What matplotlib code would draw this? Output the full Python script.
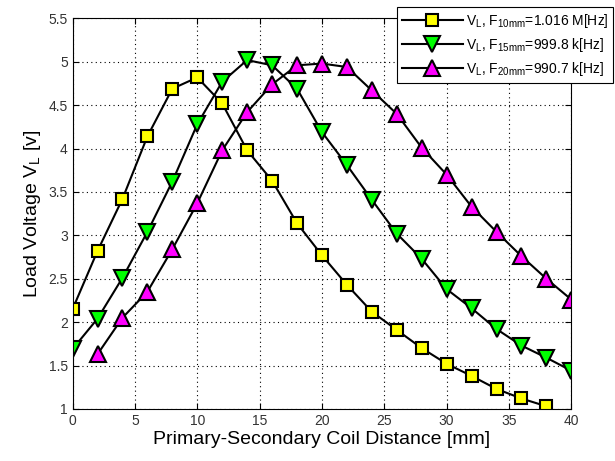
import numpy as np
import matplotlib
matplotlib.use("Agg")
import matplotlib.pyplot as plt

plt.rcParams['font.family'] = ['Liberation Sans', 'DejaVu Sans']
plt.rcParams['mathtext.fontset'] = 'custom'
plt.rcParams['mathtext.rm'] = 'Liberation Sans'
plt.rcParams['mathtext.it'] = 'Liberation Sans'

# distances [mm]
dist_10 = list(range(0, 40, 2))
dist_15 = list(range(0, 42, 2))
dist_20 = list(range(2, 42, 2))

# load voltage [V]
v_10mm = [2.15, 2.82, 3.42, 4.14, 4.69, 4.82, 4.52, 3.98, 3.63, 3.14,
          2.77, 2.43, 2.12, 1.91, 1.70, 1.52, 1.38, 1.23, 1.12, 1.03]
v_15mm = [1.69, 2.04, 2.51, 3.04, 3.62, 4.28, 4.77, 5.02, 4.96, 4.69,
          4.19, 3.81, 3.41, 3.02, 2.73, 2.38, 2.16, 1.92, 1.73, 1.59, 1.44]
v_20mm = [1.63, 2.05, 2.35, 2.84, 3.37, 3.98, 4.42, 4.74, 4.96, 4.98,
          4.94, 4.67, 4.40, 4.01, 3.70, 3.33, 3.04, 2.76, 2.50, 2.26]

labels = [r'V$_\mathrm{L}$, F$_\mathrm{10mm}$=1.016 M[Hz]',
          r'V$_\mathrm{L}$, F$_\mathrm{15mm}$=999.8 k[Hz]',
          r'V$_\mathrm{L}$, F$_\mathrm{20mm}$=990.7 k[Hz]']

fig = plt.figure(figsize=(6.15, 4.61), dpi=100)
ax = fig.add_axes([0.118, 0.113, 0.811, 0.847])

ax.plot(dist_10, v_10mm, '-s', color='k', lw=1.5, ms=9,
        mfc='#ffff00', mec='k', mew=1.5, label=labels[0])
ax.plot(dist_15, v_15mm, '-v', color='k', lw=1.5, ms=11,
        mfc='#00ff00', mec='k', mew=1.5, label=labels[1])
ax.plot(dist_20, v_20mm, '-^', color='k', lw=1.5, ms=11,
        mfc='#ff00ff', mec='k', mew=1.5, label=labels[2])

ax.set_xlim(0, 40)
ax.set_ylim(1, 5.5)
ax.set_xticks(np.arange(0, 41, 5))
ax.set_yticks(np.arange(1, 5.6, 0.5))
ax.set_yticklabels(['1', '1.5', '2', '2.5', '3', '3.5', '4', '4.5', '5', '5.5'])
ax.grid(True, color='k', linestyle=(0, (1, 3)), linewidth=0.8)
ax.tick_params(direction='in', top=True, right=True, labelsize=10, length=4,
               labelcolor='#333333')
for s in ax.spines.values():
    s.set_linewidth(0.8)

ax.set_xlabel('Primary-Secondary Coil Distance [mm]', fontsize=14, labelpad=2)
ax.set_ylabel(r'Load Voltage V$_\mathrm{L}$ [v]', fontsize=14, labelpad=4)

leg = fig.legend(loc='upper right', bbox_to_anchor=(0.997, 0.985),
                 fontsize=10, numpoints=1, handlelength=4.4, handletextpad=0.2,
                 fancybox=False, framealpha=1, edgecolor='k',
                 borderpad=0.35, labelspacing=0.45, borderaxespad=0)
leg.get_frame().set_linewidth(0.8)

fig.savefig('out.png', dpi=100)
